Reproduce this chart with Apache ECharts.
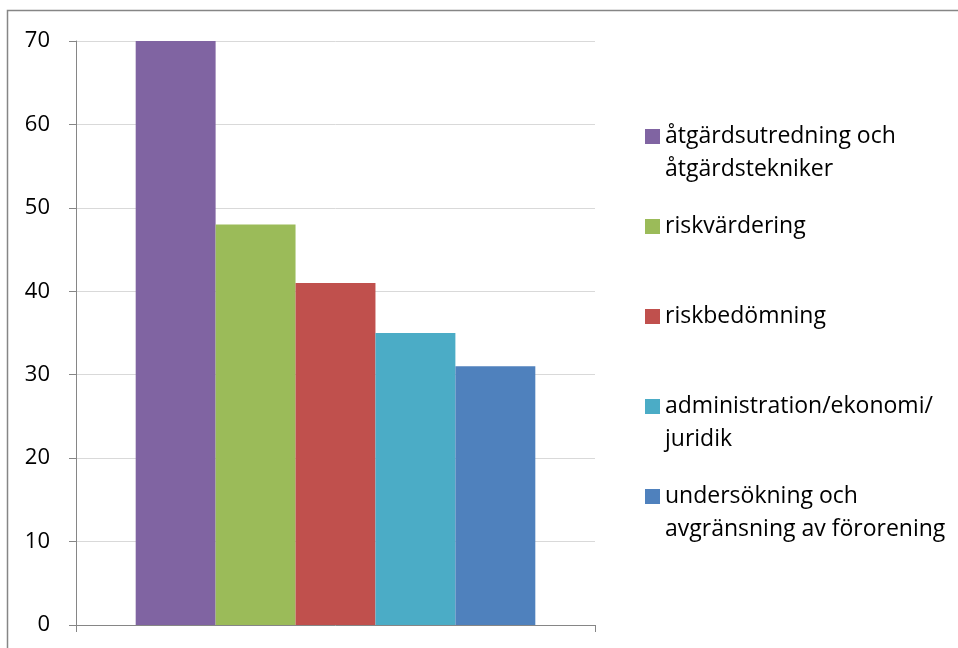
<!DOCTYPE html>
<html lang="sv">
<head>
<meta charset="UTF-8">
<title>Kompetensbehov</title>
<style>
html, body { margin: 0; padding: 0; background: #fff; }
#chart { width: 958px; height: 648px; }
</style>
</head>
<body>
<div id="chart"></div>
<script src="https://cdn.jsdelivr.net/npm/echarts@6/dist/echarts.min.js"></script>
<script>
// serier (en kategori, fem staplar)
var seriesNames = [
  'åtgärdsutredning och\nåtgärdstekniker',
  'riskvärdering',
  'riskbedömning',
  'administration/ekonomi/\njuridik',
  'undersökning och\navgränsning av förorening'
];
var seriesValues = [70, 48, 41, 35, 31];
var seriesColors = ['#8064A2', '#9BBB59', '#C0504D', '#4BACC6', '#4F81BD'];
var category = [''];
var yTicks = { min: 0, max: 70, interval: 10 };

var font = '"Open Sans", "Liberation Sans", sans-serif';
var lineH = 33;
var chart = echarts.init(document.getElementById('chart'));

var series = seriesNames.map(function (n, i) {
  return {
    name: n,
    type: 'bar',
    data: [seriesValues[i]],
    barGap: 0,
    barCategoryGap: '23%',
    itemStyle: { color: seriesColors[i] },
    animation: false
  };
});

// legend: en per post, rutan i höjd med första textraden
var legendCenters = [136.5, 226.5, 316.5, 406.5, 496.5];
var legends = seriesNames.map(function (n, i) {
  var twoLines = n.indexOf('\n') >= 0;
  return {
    data: [n],
    left: 645,
    top: legendCenters[i] - (twoLines ? 1.5 * lineH : 0.5 * lineH),
    orient: 'vertical',
    icon: 'rect',
    itemWidth: 15,
    itemHeight: 15,
    itemGap: 0,
    padding: 0,
    selectedMode: false,
    formatter: function (name) {
      // tom rad först så att rutan hamnar vid första raden
      return name.indexOf('\n') >= 0 ? '\n' + name : name;
    },
    textStyle: {
      fontFamily: font,
      fontSize: 23,
      lineHeight: lineH,
      color: '#000'
    }
  };
});

chart.setOption({
  animation: false,
  backgroundColor: '#fff',
  grid: { left: 76, right: 363, top: 41, bottom: 23 },
  legend: legends,
  xAxis: {
    type: 'category',
    data: category,
    axisLine: { lineStyle: { color: '#868686', width: 1 } },
    axisTick: { show: true, length: 7, lineStyle: { color: '#868686' } },
    axisLabel: { show: false }
  },
  yAxis: {
    type: 'value',
    min: yTicks.min,
    max: yTicks.max,
    interval: yTicks.interval,
    axisLine: { show: true, lineStyle: { color: '#868686', width: 1 } },
    axisTick: { show: true, length: 7, lineStyle: { color: '#868686' } },
    axisLabel: { fontFamily: font, fontSize: 22, color: '#000', margin: 26 },
    splitLine: { lineStyle: { color: '#d9d9d9', width: 1 } }
  },
  series: series,
  graphic: [{
    type: 'rect',
    shape: { x: 7.5, y: 10.5, width: 980, height: 700 },
    style: { fill: null, stroke: '#868686', lineWidth: 1.5 },
    silent: true
  }]
});
</script>
</body>
</html>
